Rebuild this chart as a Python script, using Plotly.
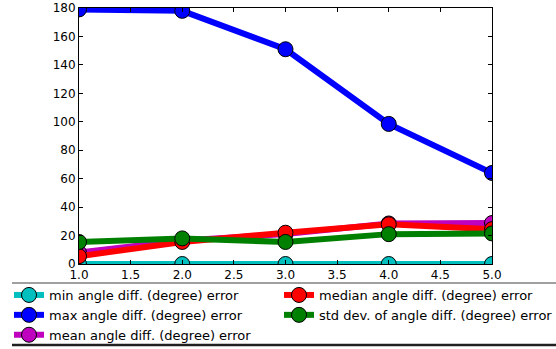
import plotly.graph_objects as go

x_vals = [1.0, 2.0, 3.0, 4.0, 5.0]
min_err = [0.0, 0.0, 0.0, 0.0, 0.0]
max_err = [179.0, 178.0, 151.0, 98.5, 64.0]
mean_err = [8.0, 16.5, 21.0, 28.5, 28.8]
median_err = [5.5, 15.5, 22.0, 27.9, 24.5]
std_err = [15.5, 18.0, 15.5, 21.0, 21.5]

names = [
    "min angle diff. (degree) error",
    "max angle diff. (degree) error",
    "mean angle diff. (degree) error",
    "median angle diff. (degree) error",
    "std dev. of angle diff. (degree) error",
]
series = [min_err, max_err, mean_err, median_err, std_err]
colors = ["#00BFBF", "#0000FF", "#BF00BF", "#FF0000", "#008000"]
legend_ids = ["legend", "legend", "legend", "legend2", "legend2"]

x_ticks = [1.0, 1.5, 2.0, 2.5, 3.0, 3.5, 4.0, 4.5, 5.0]
y_ticks = [0, 20, 40, 60, 80, 100, 120, 140, 160, 180]

fig = go.Figure()
for name, ys, col, lg in zip(names, series, colors, legend_ids):
    fig.add_trace(go.Scatter(
        x=x_vals, y=ys, name=name, mode="lines+markers",
        line=dict(color=col, width=6),
        marker=dict(color=col, size=15, line=dict(color="black", width=1)),
        legend=lg, cliponaxis=True,
    ))

W, H = 556, 349
L, R, T, B = 79, 64, 8, 85
pw = W - L - R
ph = H - T - B

def py(pix):
    return -(pix - (T + ph)) / ph

def px(pix):
    return (pix - L) / pw

leg_common = dict(
    orientation="v", xanchor="left", yanchor="top",
    itemwidth=30,
    font=dict(size=13, family="DejaVu Sans"),
    bgcolor="rgba(0,0,0,0)",
    tracegroupgap=0,
)

fig.update_layout(
    width=W, height=H,
    margin=dict(l=L, r=R, t=T, b=B, autoexpand=False),
    paper_bgcolor="white", plot_bgcolor="white",
    font=dict(family="DejaVu Sans", size=12, color="black"),
    showlegend=True,
    legend=dict(x=px(9), y=py(280), **leg_common),
    legend2=dict(x=px(279), y=py(280), **leg_common),
    xaxis=dict(
        range=[1.0, 5.0], tickvals=x_ticks,
        ticktext=[f"{v:.1f}" for v in x_ticks],
        showgrid=False, zeroline=False,
        showline=True, linecolor="black", linewidth=1, mirror="ticks",
        ticks="inside", ticklen=4, tickcolor="black",
    ),
    yaxis=dict(
        range=[0, 180], tickvals=y_ticks,
        showgrid=False, zeroline=False,
        showline=True, linecolor="black", linewidth=1, mirror="ticks",
        ticks="inside", ticklen=4, tickcolor="black",
    ),
    shapes=[
        dict(type="line", xref="paper", yref="paper",
             x0=px(12), x1=px(W), y0=py(283), y1=py(283),
             line=dict(color="#808080", width=1.5)),
        dict(type="line", xref="paper", yref="paper",
             x0=px(12), x1=px(W), y0=py(345), y1=py(345),
             line=dict(color="#202020", width=2.5)),
    ],
)

fig.write_html(
    "out.html",
    config={"displayModeBar": False},
    post_script="document.body.style.margin='0';",
)
